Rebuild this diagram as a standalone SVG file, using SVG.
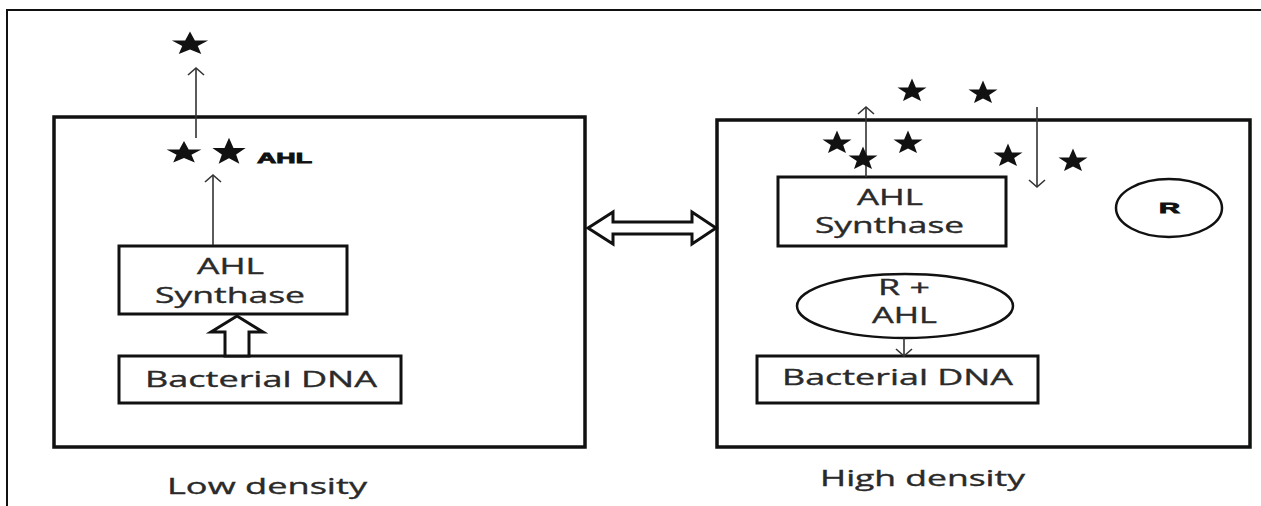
<svg xmlns="http://www.w3.org/2000/svg" width="1261" height="506" viewBox="0 0 1261 506">
<style>
.cell{fill:none;stroke:#111;stroke-width:3.5}
.box{fill:#fff;stroke:#111;stroke-width:3}
.ell{fill:#fff;stroke:#111;stroke-width:2.5}
.lbl{font-family:"Open Sans","Liberation Sans",sans-serif;font-size:21px;fill:#2a2a2a;stroke:#2a2a2a;stroke-width:0.35}
.bold{font-family:"Liberation Sans",Arial,sans-serif;font-weight:bold;font-size:14px;fill:#111;stroke:#111;stroke-width:0.8}
.thin{fill:none;stroke:#333;stroke-width:1.6}
.hollow{fill:#fff;stroke:#111;stroke-width:3;stroke-linejoin:miter}
.star{fill:#111}
</style>
<defs>
<path id="star" d="M0,-11.5 L3.9,-2.6 L14.5,-2.6 L6.2,3 L9,11 L0,6.4 L-9,11 L-6.2,3 L-14.5,-2.6 L-3.9,-2.6 Z"/>
<marker id="chev" markerUnits="userSpaceOnUse" markerWidth="20" markerHeight="20" viewBox="-10 -10 20 20" refX="0" refY="0" orient="auto" overflow="visible">
<path d="M-7,-8 L0,0 L-7,8" fill="none" stroke="#333" stroke-width="1.6"/>
</marker>
</defs>
<rect width="1261" height="506" fill="#fff"/>
<path d="M7,506 V10 H1261" fill="none" stroke="#111" stroke-width="2"/>

<g id="low-cell">
<rect class="cell" x="54" y="117" width="531" height="330"/>
</g>
<g id="high-cell">
<rect class="cell" x="717" y="120" width="533" height="327"/>
</g>

<g id="left-synthase">
<rect class="box" x="119" y="246" width="228" height="68"/>
<text class="lbl" x="197" y="274" textLength="67" lengthAdjust="spacingAndGlyphs">AHL</text>
<text class="lbl" x="155" y="303" textLength="150" lengthAdjust="spacingAndGlyphs">Synthase</text>
</g>
<g id="left-dna">
<rect class="box" x="119" y="356" width="282" height="47"/>
<text class="lbl" x="145" y="387" textLength="232" lengthAdjust="spacingAndGlyphs">Bacterial DNA</text>
</g>
<g id="left-ahl">
<use href="#star" class="star" transform="translate(184,152) scale(1.2,0.95)"/>
<use href="#star" class="star" transform="translate(229,151) scale(1.15,1.15)"/>
<text class="bold" x="257" y="163" textLength="55" lengthAdjust="spacingAndGlyphs">AHL</text>
</g>
<g id="left-top-star">
<use href="#star" class="star" transform="translate(190,43) scale(1.25,1)"/>
</g>

<g id="right-synthase">
<rect class="box" x="778" y="177" width="228" height="69"/>
<text class="lbl" x="857" y="205" textLength="66" lengthAdjust="spacingAndGlyphs">AHL</text>
<text class="lbl" x="815" y="233" textLength="149" lengthAdjust="spacingAndGlyphs">Synthase</text>
</g>
<g id="receptor">
<ellipse class="ell" cx="1169" cy="208" rx="53" ry="29"/>
<text class="bold" x="1159" y="213" textLength="21" lengthAdjust="spacingAndGlyphs">R</text>
</g>
<g id="complex">
<ellipse class="ell" cx="905" cy="306" rx="108" ry="32"/>
<text class="lbl" x="878" y="295" textLength="52" lengthAdjust="spacingAndGlyphs">R +</text>
<text class="lbl" x="872" y="323" textLength="65" lengthAdjust="spacingAndGlyphs">AHL</text>
</g>
<g id="right-dna">
<rect class="box" x="757" y="356" width="281" height="47"/>
<text class="lbl" x="782" y="385" textLength="231" lengthAdjust="spacingAndGlyphs">Bacterial DNA</text>
</g>
<g id="right-stars">
<use href="#star" class="star" transform="translate(912,90) scale(1,1)"/>
<use href="#star" class="star" transform="translate(983,92) scale(1,1)"/>
<use href="#star" class="star" transform="translate(837,142) scale(1,1)"/>
<use href="#star" class="star" transform="translate(908,142) scale(1,1)"/>
<use href="#star" class="star" transform="translate(1008,155) scale(1,1)"/>
<use href="#star" class="star" transform="translate(1073,160) scale(1,1)"/>
</g>

<g id="connectors">
<line class="thin" x1="196" y1="138" x2="196" y2="68" marker-end="url(#chev)"/>
<line class="thin" x1="213" y1="245" x2="213" y2="175" marker-end="url(#chev)"/>
<polygon class="hollow" points="225,356 225,332 211,332 237,316 263,332 249,332 249,356"/>
<polygon class="hollow" points="588,228 613,212 613,222 692,222 692,212 716,228 692,244 692,234 613,234 613,244"/>
<line class="thin" x1="866" y1="177" x2="866" y2="107" marker-end="url(#chev)"/>
<line class="thin" x1="1037" y1="107" x2="1037" y2="187" marker-end="url(#chev)"/>
<line class="thin" x1="904" y1="338" x2="904" y2="356" marker-end="url(#chev)"/>
</g>
<use href="#star" class="star" transform="translate(863,158) scale(1,1)"/>

<g id="captions">
<text class="lbl" x="167" y="494" textLength="200" lengthAdjust="spacingAndGlyphs">Low density</text>
<text class="lbl" x="820" y="486" textLength="205" lengthAdjust="spacingAndGlyphs">High density</text>
</g>
</svg>
